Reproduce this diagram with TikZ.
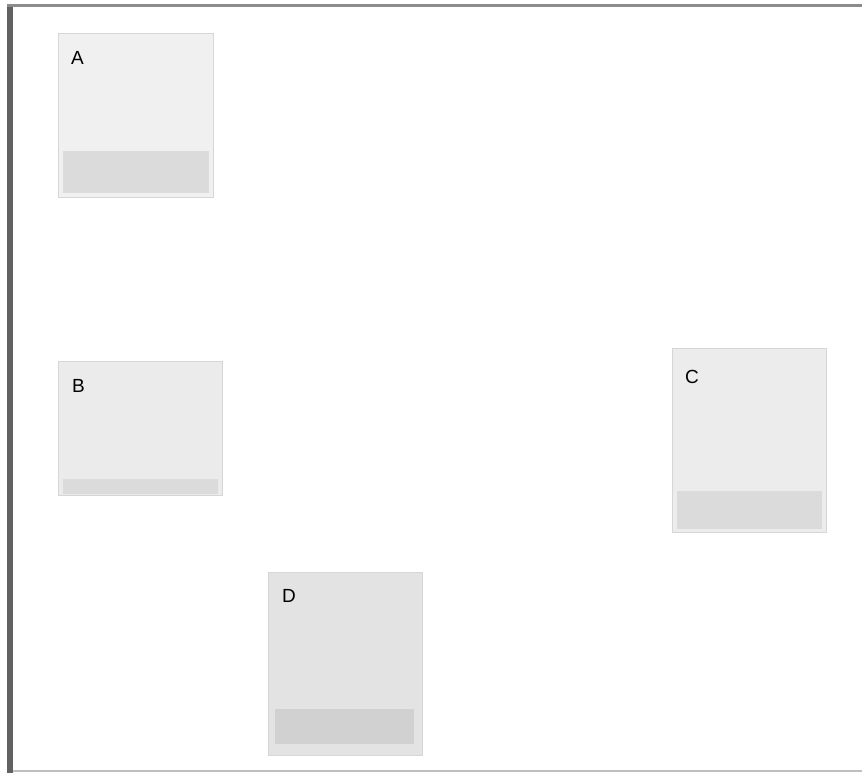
\documentclass[tikz,border=0pt]{standalone}
\usepackage{fontspec}
\setmainfont{Liberation Sans}
\usetikzlibrary{positioning,calc}

\tikzset{
    card/.style={draw=black!16, line width=0.8pt, anchor=north west, inner sep=0pt},
    tag/.style={anchor=north west, inner sep=0pt, font=\fontsize{19}{22}\selectfont},
    band/.style={fill=black!14}
}

\begin{document}
\begin{tikzpicture}[x=1pt,y=-1pt]
    \useasboundingbox (0,0) rectangle (862,773);
    \fill[white] (0,0) rectangle (862,773);

    % Frame
    \draw[line width=6pt, black!62] (10,4) -- (10,773);
    \draw[line width=3pt, black!45] (7,5.5) -- (862,5.5);
    \draw[line width=1.2pt, black!25] (13,771) -- (862,771);

    % Boxes
    \node[card, fill=black!6, minimum width=155pt, minimum height=164pt] (A) at (58,33) {};
    \node[card, fill=black!8, minimum width=164pt, minimum height=134pt] (B) at (58,361) {};
    \node[card, fill=black!7.5, minimum width=154pt, minimum height=184pt] (C) at (672,348) {};
    \node[card, fill=black!11, minimum width=154pt, minimum height=183pt] (D) at (268,572) {};

    % Bands
    \fill[band] ([xshift=5pt,yshift=5pt]A.south west) rectangle ([xshift=-5pt,yshift=47pt]A.south east);
    \fill[band] ([xshift=5pt,yshift=2pt]B.south west) rectangle ([xshift=-5pt,yshift=17pt]B.south east);
    \fill[band] ([xshift=5pt,yshift=4pt]C.south west) rectangle ([xshift=-5pt,yshift=42pt]C.south east);
    \fill[band, fill=black!18] ([xshift=7pt,yshift=12pt]D.south west) rectangle ([xshift=-9pt,yshift=47pt]D.south east);

    % Labels
    \node[tag] (tagA) at ([xshift=13pt,yshift=-18pt]A.north west) {A};
    \node[tag] (tagB) at ([xshift=14pt,yshift=-18pt]B.north west) {B};
    \node[tag] (tagC) at ([xshift=13pt,yshift=-22pt]C.north west) {C};
    \node[tag] (tagD) at ([xshift=14pt,yshift=-17pt]D.north west) {D};
\end{tikzpicture}
\end{document}
